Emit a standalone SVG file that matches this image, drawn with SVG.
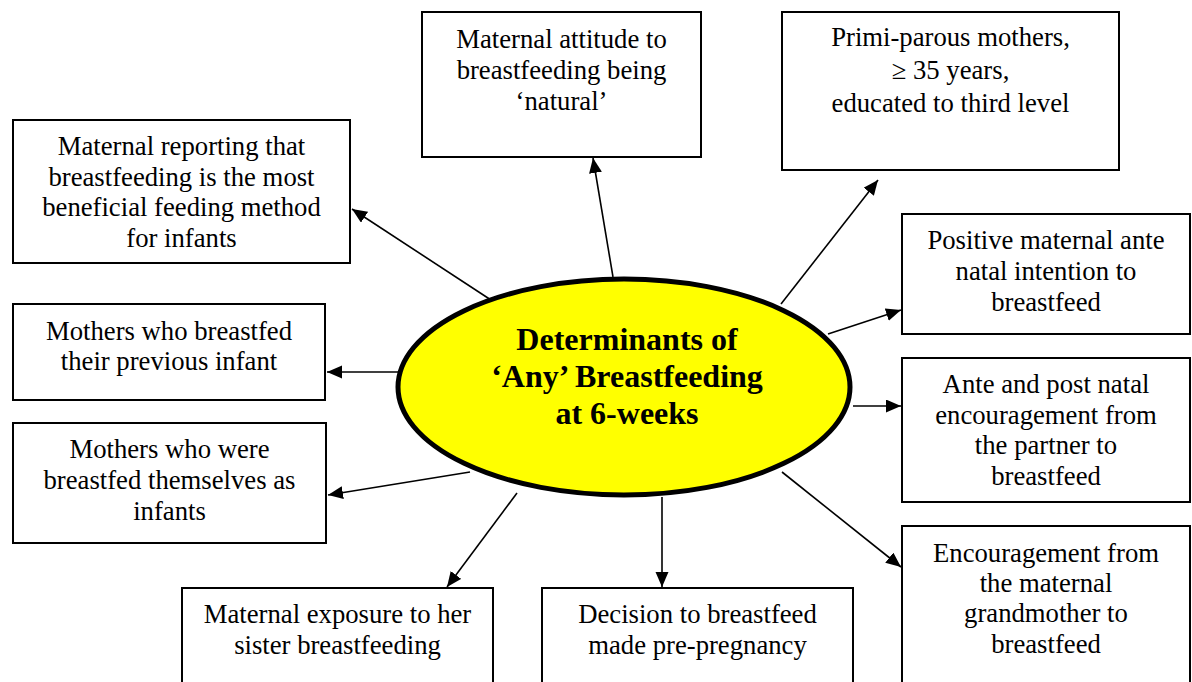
<svg xmlns="http://www.w3.org/2000/svg" width="1192" height="682" viewBox="0 0 1192 682">
  <style>
    .box { fill: #ffffff; stroke: #000000; stroke-width: 2; }
    .lbl { font-family: "Liberation Serif", "Times New Roman", serif; font-size: 26.7px; fill: #000000; text-anchor: middle; }
    .hub-lbl { font-family: "Liberation Serif", "Times New Roman", serif; font-size: 32px; font-weight: bold; fill: #000000; text-anchor: middle; }
    .conn { stroke: #000000; stroke-width: 1.6; fill: none; marker-end: url(#arrow); }
  </style>
  <defs>
    <marker id="arrow" markerUnits="userSpaceOnUse" markerWidth="16" markerHeight="14" refX="15" refY="6.5" orient="auto">
      <path d="M0,0 L15,6.5 L0,13 Z" fill="#000000"/>
    </marker>
  </defs>
  <rect width="1192" height="682" fill="#ffffff"/>

  <!-- connectors from the central ellipse to each determinant -->
  <g id="connectors">
    <line class="conn" x1="491" y1="300" x2="352" y2="209"/>
    <line class="conn" x1="613" y1="277" x2="593" y2="158"/>
    <line class="conn" x1="781" y1="304" x2="878" y2="180"/>
    <line class="conn" x1="828" y1="334" x2="901" y2="310"/>
    <line class="conn" x1="853" y1="406" x2="901" y2="406"/>
    <line class="conn" x1="782" y1="472" x2="901" y2="567"/>
    <line class="conn" x1="662" y1="497" x2="662" y2="587"/>
    <line class="conn" x1="517" y1="493" x2="447" y2="587"/>
    <line class="conn" x1="470" y1="472" x2="328" y2="495"/>
    <line class="conn" x1="398" y1="372" x2="327" y2="372"/>
  </g>

  <!-- central hub -->
  <g id="hub">
    <ellipse cx="624" cy="387" rx="226" ry="108" fill="#ffff00" stroke="#000000" stroke-width="5"/>
    <text class="hub-lbl" x="627" y="350">Determinants of</text>
    <text class="hub-lbl" x="627" y="387">‘Any’ Breastfeeding</text>
    <text class="hub-lbl" x="627" y="424">at 6-weeks</text>
  </g>

  <g id="node-beneficial">
    <rect class="box" x="13" y="120" width="337" height="143"/>
    <text class="lbl" x="181.5" y="155">Maternal reporting that</text>
    <text class="lbl" x="181.5" y="185.5">breastfeeding is the most</text>
    <text class="lbl" x="181.5" y="216">beneficial feeding method</text>
    <text class="lbl" x="181.5" y="247">for infants</text>
  </g>

  <g id="node-natural">
    <rect class="box" x="422" y="12" width="279" height="145"/>
    <text class="lbl" x="561.5" y="48">Maternal attitude to</text>
    <text class="lbl" x="561.5" y="79">breastfeeding being</text>
    <text class="lbl" x="561.5" y="110">‘natural’</text>
  </g>

  <g id="node-primiparous">
    <rect class="box" x="782" y="12" width="337" height="158"/>
    <text class="lbl" x="950.5" y="46">Primi-parous mothers,</text>
    <text class="lbl" x="950.5" y="79">≥ 35 years,</text>
    <text class="lbl" x="950.5" y="112">educated to third level</text>
  </g>

  <g id="node-intention">
    <rect class="box" x="902" y="214" width="288" height="120"/>
    <text class="lbl" x="1046" y="249">Positive maternal ante</text>
    <text class="lbl" x="1046" y="280">natal intention to</text>
    <text class="lbl" x="1046" y="311">breastfeed</text>
  </g>

  <g id="node-partner">
    <rect class="box" x="902" y="358" width="288" height="144"/>
    <text class="lbl" x="1046" y="393">Ante and post natal</text>
    <text class="lbl" x="1046" y="424">encouragement from</text>
    <text class="lbl" x="1046" y="454">the partner to</text>
    <text class="lbl" x="1046" y="485">breastfeed</text>
  </g>

  <g id="node-grandmother">
    <rect class="box" x="902" y="526" width="288" height="170"/>
    <text class="lbl" x="1046" y="562">Encouragement from</text>
    <text class="lbl" x="1046" y="592">the maternal</text>
    <text class="lbl" x="1046" y="622">grandmother to</text>
    <text class="lbl" x="1046" y="653">breastfeed</text>
  </g>

  <g id="node-prepregnancy">
    <rect class="box" x="542" y="588" width="311" height="110"/>
    <text class="lbl" x="697.5" y="623">Decision to breastfeed</text>
    <text class="lbl" x="697.5" y="654">made pre-pregnancy</text>
  </g>

  <g id="node-sister">
    <rect class="box" x="182" y="588" width="311" height="110"/>
    <text class="lbl" x="337.5" y="623">Maternal exposure to her</text>
    <text class="lbl" x="337.5" y="654">sister breastfeeding</text>
  </g>

  <g id="node-breastfed-themselves">
    <rect class="box" x="13" y="423" width="313" height="120"/>
    <text class="lbl" x="169.5" y="458">Mothers who were</text>
    <text class="lbl" x="169.5" y="489">breastfed themselves as</text>
    <text class="lbl" x="169.5" y="520">infants</text>
  </g>

  <g id="node-previous-infant">
    <rect class="box" x="13" y="304" width="312" height="96"/>
    <text class="lbl" x="169" y="340">Mothers who breastfed</text>
    <text class="lbl" x="169" y="370">their previous infant</text>
  </g>
</svg>
